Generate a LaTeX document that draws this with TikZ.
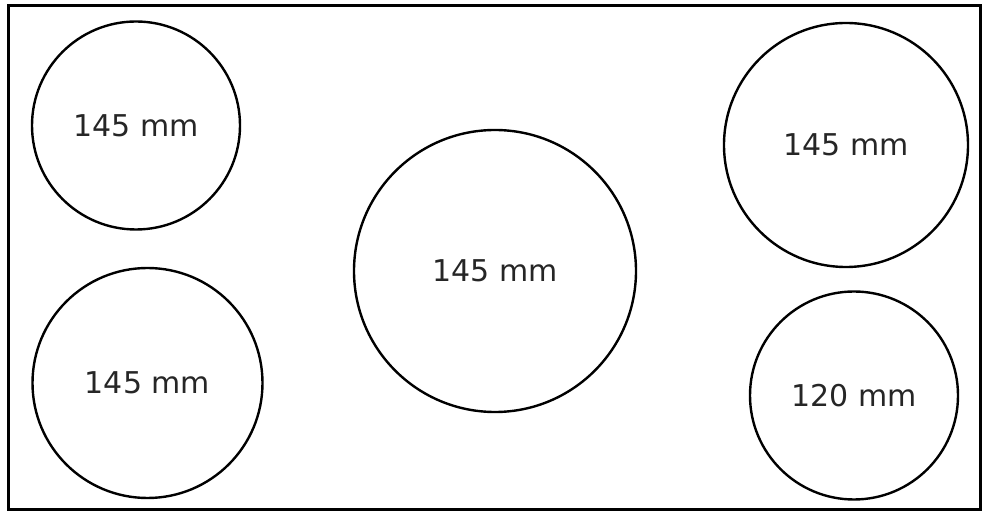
\documentclass[tikz,border=0pt]{standalone}
\usepackage{fontspec}
\setmainfont{DejaVu Sans}
\tikzset{
    hob/.style={draw, circle, line width=1.2pt, inner sep=0pt, text=black!85, font=\fontsize{15pt}{18pt}\selectfont}
}
\begin{document}
\begin{tikzpicture}[x=0.5pt,y=-0.5pt]
        \useasboundingbox (0,0) rectangle (985,512);
        \draw[line width=1.5pt] (8,6) rectangle (980,510);
        \node[hob, minimum size=104pt] (topleft) at (136,125.5) {145 mm};
        \node[hob, minimum size=115pt] (bottomleft) at (147.5,383) {145 mm};
        \node[hob, minimum size=141pt] (middle) at (495,271) {145 mm};
        \node[hob, minimum size=122pt] (topright) at (846,145) {145 mm};
        \node[hob, minimum size=104pt] (bottomright) at (854,395.5) {120 mm};
    \end{tikzpicture}
\end{document}
